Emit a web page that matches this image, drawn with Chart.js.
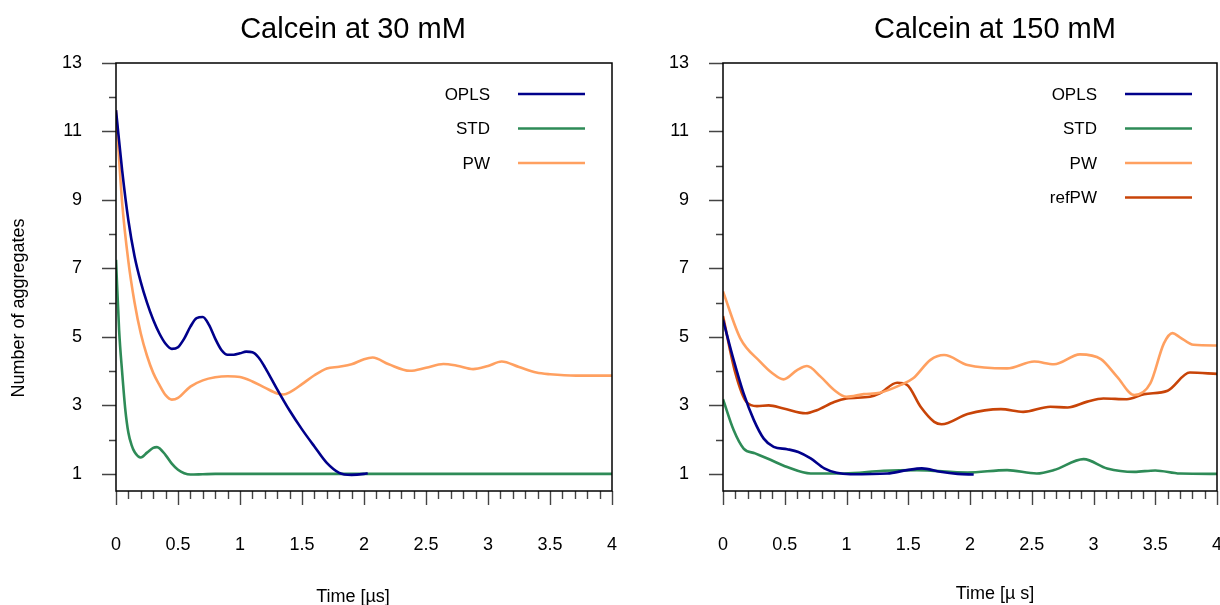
<!DOCTYPE html>
<html>
<head>
<meta charset="utf-8">
<script src="https://cdn.jsdelivr.net/npm/chart.js@4.4.1/dist/chart.umd.min.js"></script>
<style>
  body { margin: 0; background: #fff; overflow: hidden; }
  #wrap { position: relative; width: 1220px; height: 605px; }
  #c30 { position: absolute; left: 0; top: 0; }
  #c150 { position: absolute; left: 640px; top: 0; }
</style>
</head>
<body>
<div id="wrap">
  <canvas id="c30" width="640" height="605"></canvas>
  <canvas id="c150" width="580" height="605"></canvas>
</div>
<script>
// --- data (time in µs, number of aggregates) ---
const xTicks = [0, 0.5, 1, 1.5, 2, 2.5, 3, 3.5, 4];
const yTicks = [1, 3, 5, 7, 9, 11, 13];

// Calcein at 30 mM
const timeOpls30 = [0, 0.05, 0.1, 0.15, 0.2, 0.25, 0.3, 0.35, 0.4, 0.45, 0.5, 0.55, 0.6, 0.65, 0.7, 0.75, 0.8, 0.85, 0.9, 0.95, 1.0, 1.05, 1.1, 1.15, 1.2, 1.25, 1.3, 1.4, 1.5, 1.6, 1.7, 1.8, 1.9, 2.0, 2.03];
const opls30 = [11.62, 9.85, 8.4, 7.35, 6.6, 6.0, 5.5, 5.1, 4.8, 4.65, 4.7, 4.95, 5.3, 5.55, 5.58, 5.35, 4.95, 4.62, 4.48, 4.48, 4.52, 4.57, 4.55, 4.4, 4.12, 3.8, 3.47, 2.85, 2.3, 1.8, 1.32, 1.03, 0.97, 1.0, 1.02];

const timeStd30 = [0, 0.025, 0.05, 0.075, 0.1, 0.125, 0.15, 0.2, 0.25, 0.3, 0.33, 0.4, 0.45, 0.5, 0.55, 0.6, 0.7, 0.8, 1.0, 1.5, 2.0, 2.5, 3.0, 3.5, 4.0];
const std30 = [7.25, 5.2, 3.95, 2.88, 2.2, 1.85, 1.64, 1.48, 1.62, 1.76, 1.78, 1.55, 1.3, 1.12, 1.02, 0.98, 0.99, 1.0, 1.0, 1.0, 1.0, 1.0, 1.0, 1.0, 1.0];

const timePw30 = [0, 0.05, 0.1, 0.15, 0.2, 0.25, 0.3, 0.35, 0.4, 0.45, 0.5, 0.6, 0.7, 0.8, 0.9, 1.0, 1.1, 1.2, 1.3, 1.35, 1.4, 1.5, 1.6, 1.7, 1.8, 1.9, 2.0, 2.07, 2.2, 2.37, 2.5, 2.64, 2.75, 2.88, 3.0, 3.11, 3.25, 3.39, 3.5, 3.71, 4.0];
const pw30 = [11.62, 8.9, 7.2, 6.0, 5.1, 4.45, 3.95, 3.6, 3.3, 3.17, 3.22, 3.55, 3.73, 3.82, 3.85, 3.83, 3.7, 3.52, 3.35, 3.32, 3.38, 3.62, 3.88, 4.08, 4.13, 4.2, 4.35, 4.4, 4.2, 4.01, 4.1, 4.21, 4.16, 4.06, 4.15, 4.28, 4.12, 3.96, 3.91, 3.87, 3.87];

// Calcein at 150 mM
const timeOpls150 = [0, 0.086, 0.167, 0.25, 0.33, 0.41, 0.52, 0.61, 0.71, 0.82, 0.92, 1.03, 1.33, 1.49, 1.61, 1.76, 1.9, 2.03];
const opls150 = [5.5, 4.33, 3.35, 2.57, 2.03, 1.79, 1.72, 1.64, 1.45, 1.16, 1.03, 0.99, 1.01, 1.11, 1.16, 1.06, 1.0, 0.98];

const timeStd150 = [0, 0.086, 0.167, 0.26, 0.36, 0.52, 0.71, 0.98, 1.3, 1.57, 1.98, 2.3, 2.54, 2.68, 2.92, 3.11, 3.33, 3.5, 3.7, 4.0];
const std150 = [3.18, 2.28, 1.74, 1.6, 1.45, 1.2, 1.01, 1.01, 1.09, 1.11, 1.04, 1.11, 1.01, 1.11, 1.43, 1.16, 1.06, 1.1, 1.01, 1.0];

const timePw150 = [0, 0.14, 0.3, 0.4, 0.49, 0.6, 0.68, 0.79, 0.9, 1.0, 1.14, 1.27, 1.44, 1.54, 1.68, 1.79, 1.98, 2.3, 2.52, 2.68, 2.89, 3.06, 3.19, 3.33, 3.46, 3.57, 3.64, 3.7, 3.81, 4.0];
const pw150 = [6.33, 4.96, 4.28, 3.94, 3.76, 4.03, 4.15, 3.84, 3.45, 3.25, 3.33, 3.37, 3.6, 3.79, 4.33, 4.47, 4.18, 4.08, 4.28, 4.2, 4.49, 4.35, 3.84, 3.3, 3.64, 4.81, 5.11, 4.99, 4.77, 4.75];

const timeRef150 = [0, 0.1, 0.19, 0.275, 0.37, 0.49, 0.67, 0.76, 0.9, 1.0, 1.19, 1.27, 1.41, 1.49, 1.6, 1.71, 1.77, 1.98, 2.25, 2.43, 2.65, 2.79, 2.95, 3.08, 3.27, 3.41, 3.6, 3.78, 4.0];
const ref150 = [5.61, 3.95, 3.1, 2.98, 3.0, 2.91, 2.77, 2.86, 3.1, 3.2, 3.25, 3.35, 3.66, 3.6, 2.96, 2.52, 2.45, 2.75, 2.89, 2.81, 2.96, 2.94, 3.11, 3.2, 3.18, 3.33, 3.43, 3.96, 3.92];

const COLORS = { OPLS: '#00008b', STD: '#2e8b57', PW: '#ffa060', refPW: '#c84408' };

Chart.defaults.font.family = "'Liberation Sans', Arial, sans-serif";
Chart.defaults.color = '#000';

function pts(t, v) { return t.map((x, i) => ({ x: x, y: v[i] })); }

function ds(label, t, v) {
  return {
    label: label,
    data: pts(t, v),
    borderColor: COLORS[label],
    borderWidth: 2.6,
    pointRadius: 0,
    fill: false,
    cubicInterpolationMode: 'monotone'
  };
}

// box, tick marks, titles and legend
const decor = {
  id: 'decor',
  afterDraw(chart, args, o) {
    const { ctx, chartArea: a, scales } = chart;
    const xs = scales.x, ys = scales.y;
    ctx.save();
    // tick marks
    ctx.strokeStyle = '#444';
    ctx.lineWidth = 1.4;
    ctx.beginPath();
    for (let i = 0; i <= 40; i++) {
      const px = Math.round(xs.getPixelForValue(i / 10)) + 0.5;
      ctx.moveTo(px, a.bottom);
      ctx.lineTo(px, a.bottom + (i % 5 === 0 ? 14 : 8));
    }
    for (let v = 1; v <= 13; v++) {
      const py = Math.round(ys.getPixelForValue(v)) + 0.5;
      ctx.moveTo(a.left, py);
      ctx.lineTo(a.left - (v % 2 === 1 ? 14 : 7), py);
    }
    ctx.stroke();
    // frame
    ctx.strokeStyle = '#000';
    ctx.lineWidth = 1.5;
    ctx.strokeRect(a.left, a.top, a.right - a.left, a.bottom - a.top);

    const cx = (a.left + a.right) / 2;
    ctx.fillStyle = '#000';
    ctx.textBaseline = 'alphabetic';
    ctx.textAlign = 'center';
    ctx.font = "29px 'Liberation Sans', Arial, sans-serif";
    ctx.fillText(o.title, cx + o.dx, 38);
    ctx.font = "18px 'Liberation Sans', Arial, sans-serif";
    ctx.textBaseline = 'middle';
    ctx.fillText(o.xTitle, cx + o.dx, o.xTitleY);
    if (o.yTitle) {
      ctx.save();
      ctx.translate(19, 308);
      ctx.rotate(-Math.PI / 2);
      ctx.fillText(o.yTitle, 0, 0);
      ctx.restore();
    }
    // legend
    ctx.font = "17px 'Liberation Sans', Arial, sans-serif";
    ctx.textAlign = 'right';
    chart.data.datasets.forEach((d, i) => {
      const y = a.top + 31 + i * 34.5;
      ctx.fillStyle = '#000';
      ctx.fillText(d.label, a.left + 374, y + 1);
      ctx.strokeStyle = d.borderColor;
      ctx.lineWidth = 2.6;
      ctx.beginPath();
      ctx.moveTo(a.left + 402, y);
      ctx.lineTo(a.left + 469, y);
      ctx.stroke();
    });
    ctx.restore();
  }
};

function makeChart(id, datasets, yWidth, padRight, opts) {
  return new Chart(document.getElementById(id), {
    type: 'line',
    data: { datasets: datasets },
    options: {
      responsive: false,
      animation: false,
      layout: { padding: { left: 0, top: 63, right: padRight, bottom: 0 } },
      plugins: { legend: { display: false }, tooltip: { enabled: false }, decor: opts },
      scales: {
        x: {
          type: 'linear', min: 0, max: 4,
          grid: { display: false, drawTicks: false },
          border: { display: false },
          afterBuildTicks: s => { s.ticks = xTicks.map(v => ({ value: v })); },
          afterFit: s => { s.height = 114; s.paddingLeft = 0; s.paddingRight = 0; },
          ticks: { autoSkip: false, maxRotation: 0, padding: 43, font: { size: 18 }, callback: v => String(v) }
        },
        y: {
          type: 'linear', min: 0.5, max: 13,
          grid: { display: false, drawTicks: false },
          border: { display: false },
          afterBuildTicks: s => { s.ticks = yTicks.map(v => ({ value: v })); },
          afterFit: s => { s.width = yWidth; },
          ticks: { autoSkip: false, padding: 34, font: { size: 18 }, callback: v => String(v) }
        }
      }
    },
    plugins: [decor]
  });
}

makeChart('c30', [
  ds('OPLS', timeOpls30, opls30),
  ds('STD', timeStd30, std30),
  ds('PW', timePw30, pw30)
], 116, 28, { title: 'Calcein at 30 mM', xTitle: 'Time [\u00b5s]', xTitleY: 597, yTitle: 'Number of aggregates', dx: -11 });

makeChart('c150', [
  ds('OPLS', timeOpls150, opls150),
  ds('STD', timeStd150, std150),
  ds('PW', timePw150, pw150),
  ds('refPW', timeRef150, ref150)
], 83, 3, { title: 'Calcein at 150 mM', xTitle: 'Time [\u00b5 s]', xTitleY: 594, yTitle: '', dx: 25 });
</script>
</body>
</html>
